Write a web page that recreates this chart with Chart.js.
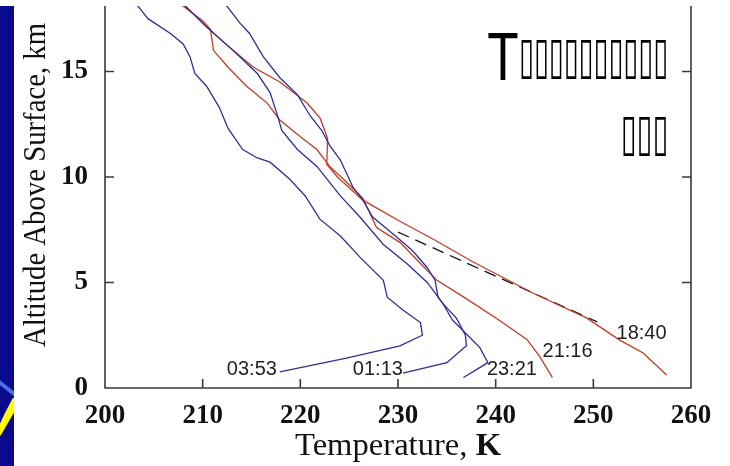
<!DOCTYPE html>
<html><head><meta charset="utf-8">
<script src="https://cdn.jsdelivr.net/npm/chart.js@4/dist/chart.umd.min.js"></script>
<style>
html,body{margin:0;padding:0;background:#fff;}
#wrap{position:relative;width:730px;height:466px;overflow:hidden;background:#fff;}
#strip{position:absolute;left:0;top:6px;width:14px;height:460px;background:#0a0a8c;overflow:hidden;}
#band{position:absolute;left:-5px;top:381px;width:26px;height:4px;background:#4a6ee8;transform:rotate(38deg);}
#yy{position:absolute;left:-16px;top:372px;font:italic bold 64px "Liberation Sans",Arial,sans-serif;color:#ffff00;line-height:1;}
canvas{position:absolute;left:0;top:0;}
</style></head>
<body><div id="wrap"><div id="strip"><div id="band"></div><div id="yy">y</div></div><canvas id="c" width="730" height="466"></canvas></div>
<script>
// ---- data ----
const xTicks = [200, 210, 220, 230, 240, 250, 260];
const yTicks = [0, 5, 10, 15];
const seriesNames = ['03:53', '01:13', '23:21', '21:16', '18:40'];

const temp0353 = [203.2,204.4,206.7,208.0,208.7,209.2,210.4,211.7,212.6,214.1,215.6,216.9,218.9,220.5,222.0,224.1,226.1,228.5,228.9,230.5,232.3,232.5,230.2,224.6,217.9];
const alt0353  = [18.2,17.5,16.8,16.3,15.7,14.9,14.3,13.3,12.3,11.3,10.9,10.7,9.9,9.1,8.0,7.2,6.2,5.1,4.3,3.7,3.1,2.5,2.0,1.4,0.76];

const temp0113 = [208.0,210.4,213.1,215.6,216.9,217.6,218.1,219.7,221.7,224.1,226.1,228.5,230.9,233.0,234.6,236.0,236.9,237.0,235.0,230.5];
const alt0113  = [18.2,17.1,16.0,14.9,14.0,13.0,12.2,11.3,10.5,9.1,8.1,6.8,5.9,5.0,4.0,3.3,2.5,2.0,1.2,0.7];

const temp2321 = [212.3,213.8,214.8,216.2,217.9,219.7,221.0,222.2,223.0,224.1,225.4,226.4,227.4,229.5,231.5,233.0,233.8,234.1,234.6,235.6,236.7,238.4,239.2,236.7];
const alt2321  = [18.2,17.3,16.8,15.7,14.7,13.9,12.9,12.2,11.5,10.8,9.5,8.9,8.1,7.3,6.5,5.7,5.1,4.3,4.0,3.2,2.7,1.9,1.2,0.5];

const temp2116 = [207.7,210.0,210.8,211.1,212.6,214.5,216.6,217.9,220.0,221.7,223.0,224.4,226.4,226.8,227.8,230.2,232.3,234.0,237.1,240.4,243.2,244.5,245.8];
const alt2116  = [18.2,17.4,17.0,16.0,15.2,14.3,13.5,12.7,11.9,11.3,10.5,9.9,9.0,8.6,7.6,6.9,5.9,5.1,4.2,3.2,2.3,1.5,0.5];

const temp1840 = [208.0,210.0,212.1,215.2,217.9,220.7,222.0,222.5,222.8,222.7,223.8,226.4,230.2,233.8,237.7,243.8,249.3,252.7,255.1,257.5];
const alt1840  = [18.2,17.3,16.4,15.2,14.5,13.5,12.8,12.2,11.8,10.6,10.0,8.9,7.9,7.0,5.97,4.5,3.32,2.27,1.66,0.62];

const tempDashed = [230.0, 250.4];
const altDashed  = [7.39, 3.13];

// label anchors (data coordinates)
const labelT = [217.6, 230.5, 239.1, 244.8, 257.5];
const labelH = [0.9, 0.87, 0.87, 1.75, 2.56];

const titleLine1Head = 'T';
const titleLine1Rest = '\u25AF\u25AF\u25AF\u25AF\u25AF\u25AF\u25AF\u25AF\u25AF\u25AF';
const titleLine2 = '\u25AF\u25AF\u25AF';
const xTitle = 'Temperature, ';
const xTitleUnit = 'K';
const yTitle = 'Altitude Above Surface, km';

// ---- chart ----
const BLUE = '#2e2e98', RED = '#c23b22';
function pts(t, h){ return t.map((v,i)=>({x:v, y:h[i]})); }
const seriesData = [[temp0353,alt0353],[temp0113,alt0113],[temp2321,alt2321],[temp2116,alt2116],[temp1840,alt1840]];
const seriesColors = [BLUE, BLUE, BLUE, RED, RED];
const datasets = seriesData.map((d,i)=>({
  label: seriesNames[i], data: pts(d[0], d[1]), showLine:true,
  borderColor: seriesColors[i], borderWidth:1.3, pointRadius:0, fill:false, tension:0
}));
datasets.push({label:'dashed', data: pts(tempDashed, altDashed), showLine:true,
  borderColor:'#111', borderWidth:1.3, borderDash:[12,7], pointRadius:0, fill:false});

const labelSide = ['right','right','left','left','right'];

function fitText(ctx, text, font, x0, y0, x1, y1){
  ctx.save();
  ctx.font = font;
  ctx.textAlign = 'left'; ctx.textBaseline = 'alphabetic';
  const m = ctx.measureText(text);
  const w = m.actualBoundingBoxLeft + m.actualBoundingBoxRight;
  const h = m.actualBoundingBoxAscent + m.actualBoundingBoxDescent;
  ctx.translate(x0, y0);
  ctx.scale((x1-x0)/w, (y1-y0)/h);
  ctx.fillText(text, m.actualBoundingBoxLeft, m.actualBoundingBoxAscent);
  ctx.restore();
}

const overlay = {
  id: 'overlay',
  afterDatasetsDraw(chart){
    const {ctx, chartArea:a, scales:{x, y}} = chart;
    ctx.save();
    ctx.strokeStyle = '#3a3a3a'; ctx.lineWidth = 1.6;
    ctx.beginPath();
    ctx.moveTo(a.left, a.top); ctx.lineTo(a.left, a.bottom);
    ctx.lineTo(a.right, a.bottom); ctx.lineTo(a.right, a.top);
    ctx.stroke();
    const tl = 9;
    ctx.beginPath();
    xTicks.forEach(v=>{ if (v > x.min && v < x.max){ const p = x.getPixelForValue(v); ctx.moveTo(p, a.bottom); ctx.lineTo(p, a.bottom - tl);} });
    yTicks.forEach(v=>{ if (v > y.min && v < y.max){ const p = y.getPixelForValue(v);
      ctx.moveTo(a.left, p); ctx.lineTo(a.left + tl, p);
      ctx.moveTo(a.right, p); ctx.lineTo(a.right - tl, p);} });
    ctx.stroke();

    // series labels
    ctx.fillStyle = '#222';
    ctx.font = '20px "Liberation Sans", Arial, sans-serif';
    ctx.textBaseline = 'middle';
    seriesNames.forEach((n,i)=>{
      ctx.textAlign = labelSide[i];
      ctx.fillText(n, x.getPixelForValue(labelT[i]), y.getPixelForValue(labelH[i]));
    });

    // title block
    ctx.fillStyle = '#000';
    fitText(ctx, titleLine1Head, '60px "Liberation Sans", Arial, sans-serif', 488, 33, 518, 80);
    const boxFont = '40px "DejaVu Sans ExtraLight", "DejaVu Sans", sans-serif';
    fitText(ctx, titleLine1Rest, boxFont, 521, 39, 666, 79);
    fitText(ctx, titleLine2, boxFont, 623, 116, 666, 156);

    // y axis title
    ctx.save();
    ctx.fillStyle = '#111';
    ctx.font = '31px "Liberation Serif", "Times New Roman", serif';
    const yw = ctx.measureText(yTitle).width;
    ctx.translate(45, 185);
    ctx.rotate(-Math.PI/2);
    ctx.scale(324/yw, 1);
    ctx.textAlign = 'center'; ctx.textBaseline = 'alphabetic';
    ctx.fillText(yTitle, 0, 0);
    ctx.restore();

    // x axis title
    ctx.save();
    ctx.fillStyle = '#111';
    const fr = '31px "Liberation Serif", "Times New Roman", serif';
    const fb = 'bold 31px "Liberation Serif", "Times New Roman", serif';
    ctx.font = fr; const w1 = ctx.measureText(xTitle).width;
    ctx.font = fb; const w2 = ctx.measureText(xTitleUnit).width;
    const cx = (a.left + a.right)/2;
    const sx = 206/(w1+w2);
    ctx.translate(cx - 103, 455);
    ctx.scale(sx, 1);
    ctx.textAlign = 'left'; ctx.textBaseline = 'alphabetic';
    ctx.font = fr; ctx.fillText(xTitle, 0, 0);
    ctx.font = fb; ctx.fillText(xTitleUnit, w1, 0);
    ctx.restore();
    ctx.restore();
  }
};

const tickFont = {family:'"Liberation Serif", "Times New Roman", serif', size:27, weight:'bold', lineHeight:1};
new Chart(document.getElementById('c'), {
  type: 'scatter',
  data: { datasets },
  options: {
    responsive:false, animation:false, devicePixelRatio:1,
    layout:{padding:{left:0, top:6, right:39, bottom:0}},
    plugins:{legend:{display:false}, tooltip:{enabled:false}, title:{display:false}},
    scales:{
      x:{type:'linear', position:'bottom', min:200, max:260,
        afterBuildTicks: s=>{ s.ticks = xTicks.map(v=>({value:v})); },
        afterFit: s=>{ s.height = 78; s.paddingLeft = 0; s.paddingRight = 0; },
        grid:{display:false, drawTicks:false}, border:{display:false},
        ticks:{font:tickFont, color:'#111', padding:15, maxRotation:0, autoSkip:false}},
      y:{type:'linear', position:'left', min:0, max:18.1,
        afterBuildTicks: s=>{ s.ticks = yTicks.map(v=>({value:v})); },
        afterFit: s=>{ s.width = 105; s.paddingTop = 0; s.paddingBottom = 0; },
        grid:{display:false, drawTicks:false}, border:{display:false},
        ticks:{font:tickFont, color:'#111', padding:17, autoSkip:false}}
    }
  },
  plugins:[overlay]
});
</script>
</body></html>
